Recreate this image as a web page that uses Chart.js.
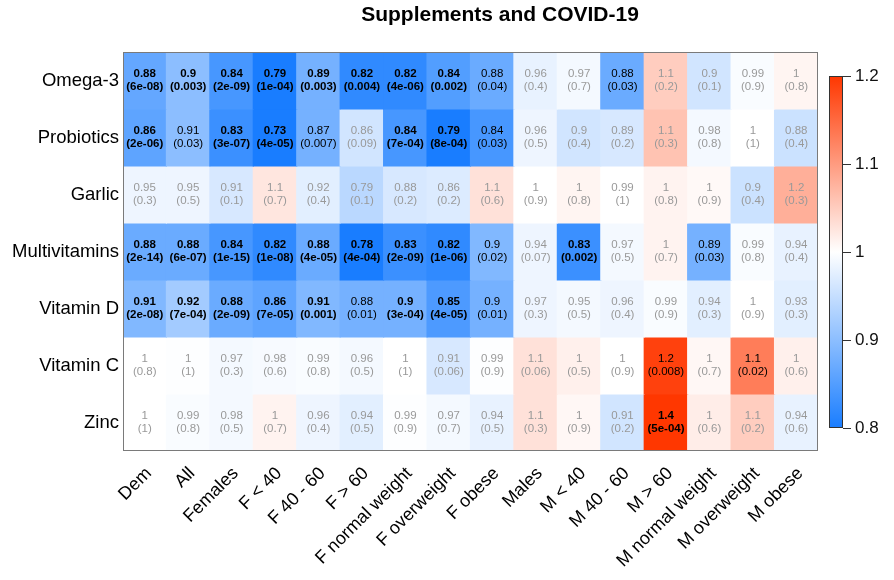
<!DOCTYPE html>
<html>
<head>
<meta charset="utf-8">
<title>Supplements and COVID-19</title>
<script src="https://cdn.jsdelivr.net/npm/chart.js@4.4.1/dist/chart.umd.min.js"></script>
<style>
  html, body { margin: 0; padding: 0; background: #fff; }
  #wrap { width: 894px; height: 580px; }
</style>
</head>
<body>
<div id="wrap"><canvas id="heat"></canvas></div>
<script>
const supplements = ["Omega-3", "Probiotics", "Garlic", "Multivitamins", "Vitamin D", "Vitamin C", "Zinc"];
const groups = ["Dem", "All", "Females", "F < 40", "F 40 - 60", "F > 60", "F normal weight", "F overweight", "F obese",
                "Males", "M < 40", "M 40 - 60", "M > 60", "M normal weight", "M overweight", "M obese"];

// odds ratios as printed in the cells (one row per supplement)
const ratios = [
  ["0.88", "0.9", "0.84", "0.79", "0.89", "0.82", "0.82", "0.84", "0.88", "0.96", "0.97", "0.88", "1.1", "0.9", "0.99", "1"],
  ["0.86", "0.91", "0.83", "0.73", "0.87", "0.86", "0.84", "0.79", "0.84", "0.96", "0.9", "0.89", "1.1", "0.98", "1", "0.88"],
  ["0.95", "0.95", "0.91", "1.1", "0.92", "0.79", "0.88", "0.86", "1.1", "1", "1", "0.99", "1", "1", "0.9", "1.2"],
  ["0.88", "0.88", "0.84", "0.82", "0.88", "0.78", "0.83", "0.82", "0.9", "0.94", "0.83", "0.97", "1", "0.89", "0.99", "0.94"],
  ["0.91", "0.92", "0.88", "0.86", "0.91", "0.88", "0.9", "0.85", "0.9", "0.97", "0.95", "0.96", "0.99", "0.94", "1", "0.93"],
  ["1", "1", "0.97", "0.98", "0.99", "0.96", "1", "0.91", "0.99", "1.1", "1", "1", "1.2", "1", "1.1", "1"],
  ["1", "0.99", "0.98", "1", "0.96", "0.94", "0.99", "0.97", "0.94", "1.1", "1", "0.91", "1.4", "1", "1.1", "0.94"]
];

// p-values printed under each ratio
const pValues = [
  ["6e-08", "0.003", "2e-09", "1e-04", "0.003", "0.004", "4e-06", "0.002", "0.04", "0.4", "0.7", "0.03", "0.2", "0.1", "0.9", "0.8"],
  ["2e-06", "0.03", "3e-07", "4e-05", "0.007", "0.09", "7e-04", "8e-04", "0.03", "0.5", "0.4", "0.2", "0.3", "0.8", "1", "0.4"],
  ["0.3", "0.5", "0.1", "0.7", "0.4", "0.1", "0.2", "0.2", "0.6", "0.9", "0.8", "1", "0.8", "0.9", "0.4", "0.3"],
  ["2e-14", "6e-07", "1e-15", "1e-08", "4e-05", "4e-04", "2e-09", "1e-06", "0.02", "0.07", "0.002", "0.5", "0.7", "0.03", "0.8", "0.4"],
  ["2e-08", "7e-04", "2e-09", "7e-05", "0.001", "0.01", "3e-04", "4e-05", "0.01", "0.3", "0.5", "0.4", "0.9", "0.3", "0.9", "0.3"],
  ["0.8", "1", "0.3", "0.6", "0.8", "0.5", "1", "0.06", "0.9", "0.06", "0.5", "0.9", "0.008", "0.7", "0.02", "0.6"],
  ["1", "0.8", "0.5", "0.7", "0.4", "0.5", "0.9", "0.7", "0.5", "0.3", "0.9", "0.2", "5e-04", "0.6", "0.2", "0.6"]
];

// value on the colour scale read from each cell's shade (faded when not significant)
const shades = [
  [0.865, 0.9, 0.84, 0.8, 0.88, 0.82, 0.82, 0.85, 0.87, 0.98, 0.99, 0.87, 1.05, 0.96, 0.995, 1.01],
  [0.86, 0.9, 0.83, 0.8, 0.88, 0.96, 0.84, 0.8, 0.84, 0.985, 0.96, 0.965, 1.06, 0.99, 1.0, 0.955],
  [0.985, 0.985, 0.965, 1.025, 0.975, 0.94, 0.965, 0.97, 1.03, 1.0, 1.01, 1.0, 1.012, 1.006, 0.955, 1.08],
  [0.87, 0.87, 0.84, 0.82, 0.87, 0.8, 0.83, 0.82, 0.89, 0.985, 0.83, 0.99, 1.012, 0.88, 0.995, 0.98],
  [0.89, 0.92, 0.87, 0.86, 0.89, 0.88, 0.88, 0.845, 0.88, 0.985, 0.99, 0.985, 0.995, 0.975, 1.0, 0.975],
  [1.0, 0.998, 0.99, 0.993, 0.995, 0.99, 1.0, 0.965, 0.998, 1.03, 1.015, 1.0, 1.19, 1.008, 1.13, 1.015],
  [1.0, 0.995, 0.99, 1.012, 0.985, 0.975, 0.998, 0.99, 0.98, 1.03, 1.008, 0.96, 1.2, 1.018, 1.05, 0.98]
];

const scaleTicks = [0.8, 0.9, 1, 1.1, 1.2];

const FONT = "'Liberation Sans', Arial, Helvetica, sans-serif";
const LOW = [25, 125, 255], HIGH = [255, 55, 0];

function shadeColor(v) {
  v = Math.max(0.8, Math.min(1.2, v));
  const end = v < 1 ? LOW : HIGH;
  const t = Math.abs(v - 1) / 0.2;
  const c = end.map(e => Math.round(255 + (e - 255) * t));
  return `rgb(${c[0]},${c[1]},${c[2]})`;
}

const n = supplements.length;
const datasets = supplements.map((name, r) => ({
  label: name,
  data: groups.map(() => [n - 1 - r, n - r]),
  backgroundColor: shades[r].map(shadeColor),
  borderWidth: 0,
  inflateAmount: 0.6,
  barPercentage: 1,
  categoryPercentage: 1,
  grouped: false,
  rowIndex: r
}));

const cellText = {
  id: 'cellText',
  afterDatasetsDraw(chart) {
    const ctx = chart.ctx;
    ctx.save();
    ctx.textAlign = 'center';
    ctx.textBaseline = 'middle';
    chart.data.datasets.forEach((ds, d) => {
      const r = ds.rowIndex;
      chart.getDatasetMeta(d).data.forEach((bar, c) => {
        const { x, y } = bar.getCenterPoint();
        const p = Number(pValues[r][c]);
        if (p < 0.005) {
          ctx.font = `bold 11.5px ${FONT}`;
          ctx.fillStyle = '#000';
        } else if (p < 0.05) {
          ctx.font = `11.5px ${FONT}`;
          ctx.fillStyle = '#000';
        } else {
          ctx.font = `11.5px ${FONT}`;
          ctx.fillStyle = '#999';
        }
        ctx.fillText(ratios[r][c], x, y - 6.5);
        ctx.fillText('(' + pValues[r][c] + ')', x, y + 6.5);
      });
    });
    ctx.restore();
  }
};

const frame = {
  id: 'frame',
  afterDraw(chart) {
    const { ctx, chartArea: a } = chart;
    ctx.save();
    ctx.strokeStyle = '#7a7a7a';
    ctx.lineWidth = 1;
    ctx.strokeRect(Math.round(a.left) + 0.5, Math.round(a.top) + 0.5,
                   Math.round(a.right - a.left) - 1, Math.round(a.bottom - a.top) - 1);

    // title
    ctx.fillStyle = '#000';
    ctx.font = `bold 21px ${FONT}`;
    ctx.textAlign = 'center';
    ctx.textBaseline = 'alphabetic';
    ctx.fillText('Supplements and COVID-19', 500, 21);

    // colour key
    const left = 829, w = 14, top = 76, bottom = 428;
    const g = ctx.createLinearGradient(0, bottom, 0, top);
    g.addColorStop(0, shadeColor(0.8));
    g.addColorStop(0.5, shadeColor(1));
    g.addColorStop(1, shadeColor(1.2));
    ctx.fillStyle = g;
    ctx.fillRect(left, top, w, bottom - top);
    ctx.strokeStyle = '#333';
    ctx.strokeRect(left + 0.5, top + 0.5, w - 1, bottom - top - 1);
    ctx.font = `17px ${FONT}`;
    ctx.textAlign = 'left';
    ctx.textBaseline = 'middle';
    ctx.fillStyle = '#111';
    scaleTicks.forEach(v => {
      const y = bottom - (v - 0.8) / 0.4 * (bottom - top);
      ctx.beginPath();
      ctx.moveTo(left + w, Math.round(y) + 0.5);
      ctx.lineTo(left + w + 8, Math.round(y) + 0.5);
      ctx.stroke();
      ctx.fillText(String(v), left + w + 12, y);
    });
    ctx.restore();
  }
};

new Chart(document.getElementById('heat'), {
  type: 'bar',
  data: { labels: groups, datasets: datasets },
  options: {
    responsive: true,
    maintainAspectRatio: false,
    animation: false,
    layout: { padding: { top: 52, right: 76, left: 0, bottom: 0 } },
    plugins: { legend: { display: false }, tooltip: { enabled: false } },
    scales: {
      x: {
        grid: { display: false, drawTicks: false },
        border: { display: false },
        ticks: { color: '#000', font: { size: 18, family: FONT }, maxRotation: 45, minRotation: 45, padding: 12, labelOffset: 4 },
        afterFit(scale) { scale.height = 129; }
      },
      y: {
        min: 0,
        max: n,
        grid: { display: false, drawTicks: false },
        border: { display: false },
        afterBuildTicks(scale) {
          scale.ticks = supplements.map((_, i) => ({ value: i + 0.5 }));
        },
        ticks: {
          color: '#000',
          font: { size: 18.5, family: FONT },
          padding: 4,
          callback: v => supplements[n - 1 - Math.floor(v)]
        },
        afterFit(scale) { scale.width = 123; }
      }
    }
  },
  plugins: [cellText, frame]
});
</script>
</body>
</html>
